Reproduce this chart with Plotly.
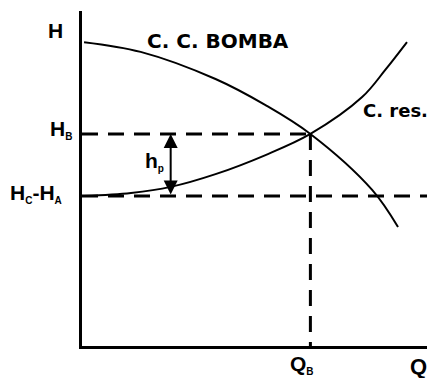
import plotly.graph_objects as go

# Pump characteristic curve (C. C. BOMBA)
q_pump = [0.6, 17.0, 38.7, 53.2, 66.2, 84.1, 91.6]
h_pump = [90.7, 87.8, 79.7, 71.9, 63.3, 46.6, 35.5]

# System (resistance) curve (C. res.)
q_res = [0.6, 14.2, 25.7, 38.7, 53.2, 66.2, 81.2, 87.9, 94.2]
h_res = [44.8, 45.7, 47.5, 51.3, 57.0, 63.3, 74.3, 82.4, 90.7]

# Operating point and static head
q_b = 66.2
h_b = 63.3
h_static = 44.8
q_max = 100
h_max = 100
q_arrow = 25.7  # where the h_p arrow is drawn

FONT_A = "Liberation Sans, Arial, sans-serif"
FONT_D = "DejaVu Sans, sans-serif"
BLACK = "#000000"
DASH = "16px,10px"

fig = go.Figure()

# dashed guide lines
fig.add_trace(go.Scatter(x=[0, q_b], y=[h_b, h_b], mode="lines",
                         line=dict(color=BLACK, width=3, dash=DASH),
                         hoverinfo="skip", showlegend=False))
fig.add_trace(go.Scatter(x=[0, q_max], y=[h_static, h_static], mode="lines",
                         line=dict(color=BLACK, width=3, dash=DASH),
                         hoverinfo="skip", showlegend=False))
fig.add_trace(go.Scatter(x=[q_b, q_b], y=[h_b, 0], mode="lines",
                         line=dict(color=BLACK, width=3, dash=DASH),
                         hoverinfo="skip", showlegend=False))

# curves
fig.add_trace(go.Scatter(x=q_pump, y=h_pump, mode="lines",
                         line=dict(color=BLACK, width=2, shape="spline", smoothing=1.0),
                         name="C. C. BOMBA", showlegend=False))
fig.add_trace(go.Scatter(x=q_res, y=h_res, mode="lines",
                         line=dict(color=BLACK, width=2, shape="spline", smoothing=1.0),
                         name="C. res.", showlegend=False))

annotations = []

# double-headed arrow h_p
annotations.append(dict(x=q_arrow, y=h_b, ax=q_arrow, ay=h_static,
                        xref="x", yref="y", axref="x", ayref="y",
                        showarrow=True, arrowhead=2, startarrowhead=2,
                        arrowside="end+start", arrowwidth=2, arrowsize=1.4,
                        startarrowsize=1.4, arrowcolor=BLACK, text=""))

sub = lambda s: "<sub><span style='font-size:10px'>" + s + "</span></sub>"

def label(text, x, y, size, font, xanchor="center", yanchor="middle", xshift=0, yshift=0, xref="x", yref="y"):
    annotations.append(dict(text="<b>" + text + "</b>", x=x, y=y, xref=xref, yref=yref,
                            xanchor=xanchor, yanchor=yanchor, xshift=xshift, yshift=yshift,
                            showarrow=False, font=dict(family=font, size=size, color=BLACK)))

label("H", 0, h_max, 21, FONT_A, xanchor="right", yanchor="middle", xshift=-17, yshift=-19)
label("C. C. BOMBA", 39.4, 91.0, 20, FONT_D)
label("C. res.", 91.0, 70.4, 18, FONT_D)
label("H" + sub("B"), 0, h_b, 21, FONT_A, xanchor="right", xshift=-8, yshift=4)
label("H" + sub("C") + "-H" + sub("A"), 0, h_static, 21, FONT_A, xanchor="right", xshift=-18, yshift=2)
label("h" + sub("p"), q_arrow, (h_b + h_static) / 2, 21, FONT_A, xanchor="right", xshift=-5, yshift=3)
label("Q" + sub("B"), q_b, 0, 21, FONT_A, xanchor="center", yanchor="top", xshift=-8, yshift=-4)
label("Q", q_max, 0, 22, FONT_A, xanchor="right", yanchor="top", xshift=2, yshift=-6)

fig.update_layout(
    width=430, height=378,
    margin=dict(l=82, r=3, t=11, b=32),
    paper_bgcolor="white", plot_bgcolor="white",
    annotations=annotations,
    showlegend=False,
    xaxis=dict(range=[0, q_max], showgrid=False, zeroline=False, showticklabels=False,
               ticks="", showline=True, linecolor=BLACK, linewidth=3, fixedrange=True),
    yaxis=dict(range=[0, h_max], showgrid=False, zeroline=False, showticklabels=False,
               ticks="", showline=True, linecolor=BLACK, linewidth=3, fixedrange=True),
)

# remove the default page margin so the figure fills the window exactly
post = "document.body.style.margin='0';document.body.style.overflow='hidden';"
fig.write_html("out.html", post_script=post, config={"displayModeBar": False})
